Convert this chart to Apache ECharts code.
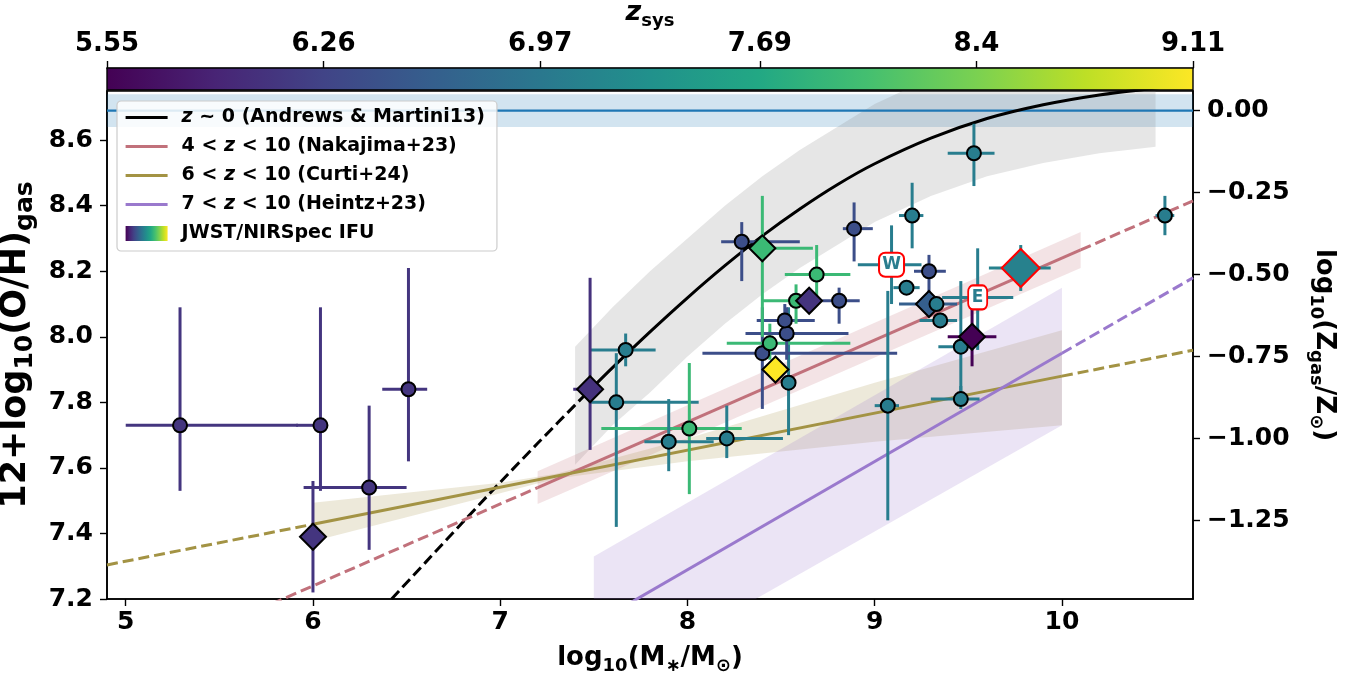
<!DOCTYPE html>
<html>
<head>
<meta charset="utf-8">
<title>Mass-metallicity relation</title>
<script src="https://cdn.jsdelivr.net/npm/echarts@6.0.0/dist/echarts.min.js"></script>
<style>
  html, body { margin: 0; padding: 0; background: #fff; }
  #chart { width: 1355px; height: 679px; }
</style>
</head>
<body>
<div id="chart"></div>
<script>
// ---- values ----
var xTicks = [5, 6, 7, 8, 9, 10];
var yTicks = [7.2, 7.4, 7.6, 7.8, 8.0, 8.2, 8.4, 8.6];
var zSolarTicks = [0, -0.25, -0.5, -0.75, -1.0, -1.25];
var zsysTicks = [5.55, 6.26, 6.97, 7.69, 8.4, 9.11];
var solarOH = 8.69;
var solarBand = [8.64, 8.74];

// z~0 Andrews & Martini 2013
var amDashed = [[6.42, 7.20], [6.6, 7.311], [6.8, 7.434], [7.0, 7.556], [7.2, 7.675], [7.45, 7.821]];
var amSolid = [[7.45, 7.821], [7.6, 7.906], [7.8, 8.015], [8.0, 8.119], [8.2, 8.217], [8.4, 8.308],
  [8.6, 8.390], [8.8, 8.464], [9.0, 8.528], [9.3, 8.606], [9.6, 8.666], [9.9, 8.708],
  [10.2, 8.738], [10.5, 8.759], [10.7, 8.771]];
// [x, lower, upper]
var amBand = [[7.4, 7.61, 7.97], [7.6, 7.73, 8.09], [7.8, 7.83, 8.20], [8.0, 7.94, 8.30],
  [8.2, 8.04, 8.40], [8.4, 8.13, 8.49], [8.6, 8.21, 8.57], [8.8, 8.28, 8.64], [9.0, 8.35, 8.71],
  [9.3, 8.43, 8.79], [9.6, 8.49, 8.85], [9.9, 8.53, 8.89], [10.2, 8.56, 8.92], [10.5, 8.58, 8.94]];

// Nakajima+23
var nakaSolid = [[7.2, 7.54], [10.1, 8.265]];
var nakaLeft = [[5.7, 7.165], [7.2, 7.54]];
var nakaRight = [[10.1, 8.265], [10.7, 8.415]];
var nakaBand = [[7.2, 7.49, 7.59], [10.1, 8.21, 8.32]];

// Curti+24
var curtiSolid = [[6.0, 7.428], [10.0, 7.88]];
var curtiLeft = [[4.9, 7.304], [6.0, 7.428]];
var curtiRight = [[10.0, 7.88], [10.7, 7.959]];
var curtiBand = [[6.0, 7.376, 7.494], [7.0, 7.523, 7.555], [7.3, 7.568, 7.582],
  [8.0, 7.62, 7.69], [9.0, 7.68, 7.86], [10.0, 7.73, 8.02]];

// Heintz+23
var heintzSolid = [[7.5, 7.124], [10.0, 7.95]];
var heintzRight = [[10.0, 7.95], [10.7, 8.18]];
var heintzBand = [[7.5, 6.92, 7.33], [10.0, 7.73, 8.15]];

// JWST points: [logM, OH, z_sys, xlo, xhi, ylo, yhi]
var circlePts = [
  [5.29, 7.73, 6.10, 5.00, 5.92, 7.53, 8.09],
  [6.04, 7.73, 6.10, 5.91, 6.07, 7.53, 8.09],
  [6.30, 7.54, 6.10, 5.95, 6.50, 7.35, 7.79],
  [6.51, 7.84, 6.10, 6.37, 6.61, 7.62, 8.21],
  [7.67, 7.96, 7.05, 7.48, 7.83, 7.91, 8.01],
  [7.62, 7.80, 7.05, 7.48, 8.06, 7.42, 7.95],
  [8.01, 7.72, 7.95, 7.54, 8.29, 7.52, 7.92],
  [7.90, 7.68, 7.05, 7.77, 8.14, 7.59, 7.81],
  [8.21, 7.69, 7.05, 8.10, 8.51, 7.63, 7.79],
  [8.54, 7.86, 7.05, 8.51, 8.58, 7.70, 8.09],
  [8.40, 7.95, 6.40, 8.08, 9.12, 7.78, 8.09],
  [8.44, 7.98, 7.95, 8.21, 8.87, 7.93, 8.04],
  [8.53, 8.01, 6.40, 8.31, 8.86, 7.93, 8.09],
  [8.52, 8.05, 6.40, 8.37, 8.68, 8.00, 8.10],
  [8.58, 8.11, 7.95, 8.40, 8.64, 8.04, 8.16],
  [8.81, 8.11, 6.40, 8.72, 8.92, 8.04, 8.15],
  [8.69, 8.19, 7.95, 8.52, 8.87, 8.10, 8.28],
  [8.29, 8.29, 6.40, 8.18, 8.60, 8.17, 8.35],
  [8.89, 8.33, 6.40, 8.83, 8.99, 8.23, 8.41],
  [9.53, 8.56, 7.05, 9.39, 9.64, 8.46, 8.65],
  [9.20, 8.37, 7.05, 9.13, 9.26, 8.27, 8.47],
  [10.55, 8.37, 7.05, 10.50, 10.60, 8.31, 8.43],
  [9.29, 8.20, 6.40, 9.21, 9.38, 8.13, 8.25],
  [9.17, 8.15, 7.05, 9.10, 9.24, 8.15, 8.15],
  [9.35, 8.05, 7.05, 9.24, 9.44, 8.05, 8.05],
  [9.46, 7.97, 7.05, 9.34, 9.52, 7.82, 8.17],
  [9.46, 7.81, 7.05, 9.30, 9.56, 7.78, 7.85],
  [9.07, 7.79, 7.05, 9.00, 9.13, 7.44, 8.14]
];
var diamondPts = [
  [6.00, 7.39, 6.10, 6.00, 6.00, 7.22, 7.56],
  [7.48, 7.84, 6.05, 7.39, 7.48, 7.655, 8.18],
  [8.40, 8.27, 7.95, 8.40, 8.67, 8.00, 8.43],
  [8.65, 8.11, 6.08, 8.65, 8.65, 8.11, 8.11],
  [8.47, 7.90, 9.11, 8.47, 8.47, 7.90, 7.90],
  [9.29, 8.10, 6.62, 9.13, 9.44, 8.10, 8.10],
  [9.52, 8.00, 5.55, 9.39, 9.65, 7.91, 8.09]
];
// the small circle drawn on top of the blue diamond
var frontCirclePts = [[9.33, 8.10, 7.05, 9.33, 9.33, 8.10, 8.10]];
var redDiamondPts = [[9.78, 8.21, 7.10, 9.61, 9.94, 8.14, 8.28]];
var labelPts = [[9.09, 8.22, 7.05, 8.91, 9.25, 8.10, 8.34], [9.55, 8.12, 7.05, 9.36, 9.74, 7.96, 8.27]];
var labelNames = ['W', 'E'];

var viridis = ['#440154', '#482475', '#414487', '#355f8d', '#2a788e', '#21918c',
  '#22a884', '#44bf70', '#7ad151', '#bddf26', '#fde725'];

// ---- chart ----
var FONT = 'DejaVu Sans';
var chart = echarts.init(document.getElementById('chart'));

function viridisGradient() {
  return new echarts.graphic.LinearGradient(0, 0, 1, 0, viridis.map(function (c, i) {
    return { offset: i / (viridis.length - 1), color: c };
  }));
}

function nameRich(size) {
  return {
    sub: { fontFamily: FONT, fontWeight: 'bold', fontSize: Math.round(size * 0.7), verticalAlign: 'bottom', padding: [0, 0, -4, 0] },
    zi: { fontFamily: FONT, fontWeight: 'bold', fontStyle: 'italic', fontSize: size + 1 }
  };
}
function nameStyle(size) {
  return { fontFamily: FONT, fontWeight: 'bold', fontSize: size, color: '#000', rich: nameRich(size) };
}

function band(name, pts, color) {
  return {
    type: 'custom', name: name, clip: true, silent: true, z: 1,
    data: [[pts[0][0], pts[0][1]]],
    renderItem: function (params, api) {
      var up = pts.map(function (p) { return api.coord([p[0], p[2]]); });
      var lo = pts.slice().reverse().map(function (p) { return api.coord([p[0], p[1]]); });
      return { type: 'polygon', shape: { points: up.concat(lo) }, style: { fill: color } };
    }
  };
}

function curve(name, data, color, dashed) {
  return {
    type: 'line', name: name, data: data, symbol: 'none', smooth: data.length > 2 ? 0.3 : false,
    clip: true, silent: true, z: 3,
    itemStyle: { color: color },
    lineStyle: { color: color, width: 3, type: dashed ? [11, 5] : 'solid' }
  };
}

function legendLine(name) {
  return { name: name, itemStyle: { opacity: 0 }, lineStyle: { width: 3.2 } };
}

var errData = circlePts.concat(diamondPts, frontCirclePts, redDiamondPts, labelPts);

var series = [
  band('am band', amBand, 'rgba(128,128,128,0.2)'),
  band('naka band', nakaBand, 'rgba(193,113,123,0.2)'),
  band('curti band', curtiBand, 'rgba(163,147,68,0.2)'),
  band('heintz band', heintzBand, 'rgba(154,121,205,0.2)'),
  {
    type: 'line', name: 'solar', symbol: 'none', silent: true, z: 2,
    data: [[4.9, solarOH], [10.7, solarOH]],
    lineStyle: { color: '#1f77b4', width: 2.4 },
    markArea: { silent: true, itemStyle: { color: 'rgba(31,119,180,0.2)' },
      data: [[{ yAxis: solarBand[0] }, { yAxis: solarBand[1] }]] }
  },
  curve('z ~ 0 (Andrews & Martini13)', amSolid, '#000000', false),
  curve('am dashed', amDashed, '#000000', true),
  curve('4 < z < 10 (Nakajima+23)', nakaSolid, '#c1717b', false),
  curve('naka left', nakaLeft, '#c1717b', true),
  curve('naka right', nakaRight, '#c1717b', true),
  curve('6 < z < 10 (Curti+24)', curtiSolid, '#a39344', false),
  curve('curti left', curtiLeft, '#a39344', true),
  curve('curti right', curtiRight, '#a39344', true),
  curve('7 < z < 10 (Heintz+23)', heintzSolid, '#9a79cd', false),
  curve('heintz right', heintzRight, '#9a79cd', true),
  {
    type: 'custom', name: 'errors', data: errData, clip: true, silent: true, z: 4,
    renderItem: function (params, api) {
      var c = api.visual('color');
      var l = api.coord([api.value(3), api.value(1)]);
      var r = api.coord([api.value(4), api.value(1)]);
      var b = api.coord([api.value(0), api.value(5)]);
      var t = api.coord([api.value(0), api.value(6)]);
      var st = { stroke: c, lineWidth: 3 };
      return { type: 'group', children: [
        { type: 'line', shape: { x1: l[0], y1: l[1], x2: r[0], y2: r[1] }, style: st },
        { type: 'line', shape: { x1: b[0], y1: b[1], x2: t[0], y2: t[1] }, style: st }
      ] };
    }
  },
  {
    type: 'scatter', name: 'JWST/NIRSpec IFU', data: circlePts, symbol: 'circle', symbolSize: 14, z: 5,
    itemStyle: { borderColor: '#000', borderWidth: 2, opacity: 1 }
  },
  {
    type: 'scatter', name: 'diamonds', data: diamondPts, symbol: 'diamond', symbolSize: 26, z: 6,
    itemStyle: { borderColor: '#000', borderWidth: 2, opacity: 1 }
  },
  {
    type: 'scatter', name: 'front circle', data: frontCirclePts, symbol: 'circle', symbolSize: 14, z: 6,
    itemStyle: { borderColor: '#000', borderWidth: 2, opacity: 1 }
  },
  {
    type: 'scatter', name: 'red diamond', data: redDiamondPts, symbol: 'diamond', symbolSize: 38, z: 6,
    itemStyle: { borderColor: '#ff0000', borderWidth: 2, opacity: 1 }
  },
  {
    type: 'scatter', name: 'labels', z: 7,
    data: labelPts.map(function (p, i) {
      return { value: p, symbolSize: labelNames[i] === 'W' ? [25, 24] : [19, 24],
        label: { formatter: labelNames[i] } };
    }),
    symbol: 'roundRect',
    itemStyle: { color: '#ffffff', borderColor: '#ff0000', borderWidth: 2, opacity: 1 },
    label: { show: true, position: 'inside', color: '#2a7d8e', fontFamily: FONT, fontWeight: 'bold', fontSize: 17 }
  },
  {
    type: 'custom', name: 'colorbar', xAxisIndex: 1, yAxisIndex: 2, silent: true,
    data: [[zsysTicks[0], 0]],
    renderItem: function (params, api) {
      var a = api.coord([zsysTicks[0], 1]);
      var b = api.coord([zsysTicks[zsysTicks.length - 1], 0]);
      return { type: 'rect', shape: { x: a[0], y: a[1], width: b[0] - a[0], height: b[1] - a[1] },
        style: { fill: viridisGradient(), stroke: '#000', lineWidth: 1.4 } };
    }
  }
];

var tickLabel = { fontFamily: FONT, fontWeight: 'bold', fontSize: 25, color: '#000' };

var option = {
  animation: false,
  backgroundColor: '#fff',
  grid: [
    { left: 107, right: 162, top: 91, bottom: 80, outerBoundsMode: 'none',
      show: true, borderColor: '#000', borderWidth: 1.6 },
    { left: 107, right: 162, top: 68, height: 22, outerBoundsMode: 'none' }
  ],
  xAxis: [
    {
      type: 'value', gridIndex: 0, min: 4.9, max: 10.7,
      name: 'log{sub|10}(M{sub|∗}/M{sub|⊙})', nameLocation: 'middle', nameGap: 46,
      nameTextStyle: nameStyle(26),
      axisLine: { onZero: false, lineStyle: { color: '#000', width: 1.6 } },
      axisTick: { customValues: xTicks, length: 7, lineStyle: { color: '#000', width: 1.4 } },
      axisLabel: Object.assign({ customValues: xTicks, margin: 11, formatter: function (v) { return String(v); } }, tickLabel),
      splitLine: { show: false }
    },
    {
      type: 'value', gridIndex: 1, min: zsysTicks[0], max: zsysTicks[zsysTicks.length - 1], position: 'top',
      name: '{zi|z}{sub|sys}', nameLocation: 'middle', nameGap: 42,
      nameTextStyle: nameStyle(26),
      axisLine: { onZero: false, lineStyle: { color: '#000', width: 1.4 } },
      axisTick: { customValues: zsysTicks, length: 7, lineStyle: { color: '#000', width: 1.4 } },
      axisLabel: Object.assign({ customValues: zsysTicks, margin: 11, formatter: function (v) { return String(v); } }, tickLabel, { fontSize: 26 }),
      splitLine: { show: false }
    }
  ],
  yAxis: [
    {
      type: 'value', gridIndex: 0, min: 7.2, max: 8.75,
      name: '12+log{sub|10}(O/H){sub|gas}', nameLocation: 'middle', nameGap: 62,
      nameTextStyle: nameStyle(35),
      axisLine: { show: true, onZero: false, lineStyle: { color: '#000', width: 1.6 } },
      axisTick: { show: true, customValues: yTicks, length: 7, lineStyle: { color: '#000', width: 1.4 } },
      axisLabel: Object.assign({ customValues: yTicks, margin: 14, formatter: function (v) { return v.toFixed(1); } }, tickLabel),
      splitLine: { show: false }
    },
    {
      type: 'value', gridIndex: 0, position: 'right', min: 7.2 - solarOH, max: 8.75 - solarOH,
      name: 'log{sub|10}(Z{sub|gas}/Z{sub|⊙})', nameLocation: 'middle', nameGap: 118, nameRotate: -90,
      nameTextStyle: nameStyle(26),
      axisLine: { show: true, onZero: false, lineStyle: { color: '#000', width: 1.6 } },
      axisTick: { show: true, customValues: zSolarTicks, length: 7, lineStyle: { color: '#000', width: 1.4 } },
      axisLabel: Object.assign({ customValues: zSolarTicks, margin: 14, formatter: function (v) {
        return (v < 0 ? '\u2212' : '') + Math.abs(v).toFixed(2);
      } }, tickLabel),
      splitLine: { show: false }
    },
    { type: 'value', gridIndex: 1, min: 0, max: 1, show: false }
  ],
  visualMap: {
    type: 'continuous', show: false, min: zsysTicks[0], max: zsysTicks[zsysTicks.length - 1],
    dimension: 2, seriesIndex: [15, 16, 17, 18, 19], inRange: { color: viridis }
  },
  legend: {
    orient: 'vertical', left: 117, top: 101, itemWidth: 42, itemHeight: 15, itemGap: 10,
    padding: [7, 12, 8, 7], selectedMode: false,
    backgroundColor: 'rgba(255,255,255,0.85)', borderColor: '#cccccc', borderWidth: 1.2, borderRadius: 4,
    textStyle: { fontFamily: FONT, fontSize: 19, fontWeight: 'bold', color: '#000', lineHeight: 17,
      padding: [0, 0, 0, 9],
      rich: { i: { fontFamily: FONT, fontSize: 19, fontWeight: 'bold', fontStyle: 'italic', lineHeight: 17 } } },
    formatter: function (n) { return n.replace(/(^|\s)z(\s)/, '$1{i|z}$2'); },
    data: [
      legendLine('z ~ 0 (Andrews & Martini13)'),
      legendLine('4 < z < 10 (Nakajima+23)'),
      legendLine('6 < z < 10 (Curti+24)'),
      legendLine('7 < z < 10 (Heintz+23)'),
      { name: 'JWST/NIRSpec IFU', icon: 'rect', itemStyle: { color: viridisGradient(), borderWidth: 0 } }
    ]
  },
  series: series
};

chart.setOption(option);
</script>
</body>
</html>
